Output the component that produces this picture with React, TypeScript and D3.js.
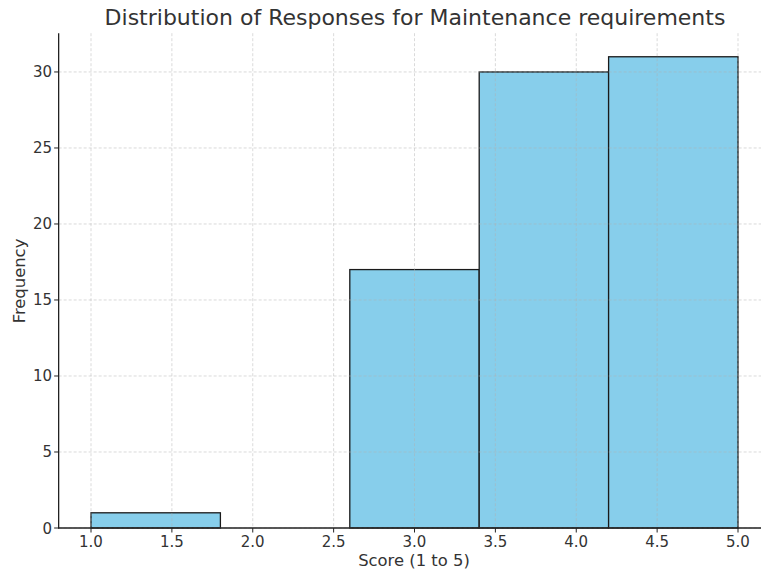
import React from "react";
import * as d3 from "d3";

const binEdges = [1.0, 1.8, 2.6, 3.4, 4.2, 5.0];
const counts = [1, 0, 17, 30, 31];
const xTicks = [1.0, 1.5, 2.0, 2.5, 3.0, 3.5, 4.0, 4.5, 5.0];
const yTicks = [0, 5, 10, 15, 20, 25, 30];
const title = "Distribution of Responses for Maintenance requirements";
const xLabel = "Score (1 to 5)";
const yLabel = "Frequency";

export default function App() {
  const W = 761, H = 573;
  const x = d3.scaleLinear().domain([0.8, 5.2]).range([58.65, 770.35]);
  const y = d3.scaleLinear().domain([0, 32.55]).range([528, 33.2]);
  const font = "DejaVu Sans, sans-serif";
  const txt = "#333333";
  const bins = counts.map((c, i) => ({ x0: binEdges[i], x1: binEdges[i + 1], c }));
  return (
    <svg width={W} height={H} style={{ position: "absolute", left: 0, top: 0, background: "#fff" }} fontFamily={font}>
      <rect width={W} height={H} fill="#fff" />
      {bins.filter(b => b.c > 0).map((b, i) => (
        <rect key={i} x={x(b.x0)} y={y(b.c)} width={x(b.x1) - x(b.x0)} height={y(0) - y(b.c)}
          fill="#87CEEB" stroke="#1a1a1a" strokeWidth={1.3} />
      ))}
      {xTicks.map(t => (
        <line key={"gx" + t} x1={x(t)} x2={x(t)} y1={y(32.55)} y2={y(0)} stroke="#b0b0b0" strokeOpacity={0.6}
          strokeWidth={0.8} strokeDasharray="3,2" />
      ))}
      {yTicks.map(t => (
        <line key={"gy" + t} x1={x(0.8)} x2={W} y1={y(t)} y2={y(t)} stroke="#b0b0b0" strokeOpacity={0.6}
          strokeWidth={0.8} strokeDasharray="3,2" />
      ))}
      <line x1={x(0.8)} x2={x(0.8)} y1={y(32.55)} y2={y(0) + 0.6} stroke="#222" strokeWidth={1.3} />
      <line x1={x(0.8) - 0.6} x2={W} y1={y(0)} y2={y(0)} stroke="#222" strokeWidth={1.3} />
      {xTicks.map(t => (
        <g key={"xt" + t}>
          <line x1={x(t)} x2={x(t)} y1={y(0)} y2={y(0) + 4.5} stroke="#222" strokeWidth={1} />
          <text x={x(t)} y={547} textAnchor="middle" fontSize={15} fill={txt}>{t.toFixed(1)}</text>
        </g>
      ))}
      {yTicks.map(t => (
        <g key={"yt" + t}>
          <line x1={x(0.8) - 4.5} x2={x(0.8)} y1={y(t)} y2={y(t)} stroke="#222" strokeWidth={1} />
          <text x={52} y={y(t) + 5.5} textAnchor="end" fontSize={15} fill={txt}>{t}</text>
        </g>
      ))}
      <text x={415} y={25} textAnchor="middle" fontSize={22} fill={txt}>{title}</text>
      <text x={414} y={566} textAnchor="middle" fontSize={16.4} fill={txt}>{xLabel}</text>
      <text transform={`translate(25,281) rotate(-90)`} textAnchor="middle" fontSize={16.4} fill={txt}>{yLabel}</text>
    </svg>
  );
}
